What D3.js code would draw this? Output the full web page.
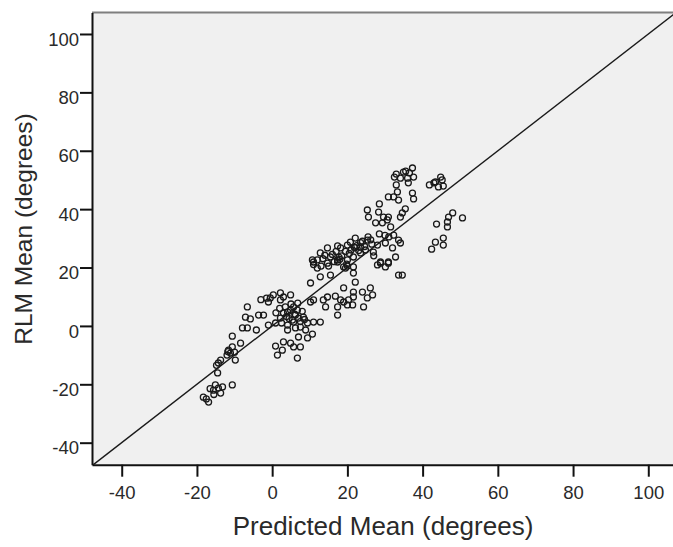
<!DOCTYPE html>
<html>
<head>
<meta charset="utf-8">
<script src="https://cdn.jsdelivr.net/npm/d3@7"></script>
<style>
  html, body { margin: 0; padding: 0; background: #fff; }
  svg { display: block; }
</style>
</head>
<body>
<div id="container"></div>
<script>
// predicted mean vs RLM mean, degrees
let predicted = [
  33.0, 34.9, 37.3, 36.5, 37.6, 36.0, 36.2, 34.1, 33.0, 33.3, 30.9, 32.3, 33.6, 37.3, 37.6,
  41.8, 43.4, 44.8, 44.2, 45.5, 43.0, 45.2,
  28.5, 25.3, 25.6, 28.3, 29.6, 30.9, 30.6, 27.5, 29.3, 31.5, 35.4, 34.6, 34.1,
  48.0, 46.9, 46.6, 50.6, 43.7, 46.6, 45.5, 45.5, 43.4, 42.4,
  28.5, 32.3, 33.6, 30.1, 32.0, 34.1, 32.8, 30.9, 28.8, 30.1,
  25.3, 22.1, 20.8, 23.5, 20.0, 18.2, 17.4, 14.7, 12.8, 10.7, 12.0, 15.5, 17.4, 20.0, 21.6,
  23.5, 24.8, 28.0, 26.9, 19.0, 20.0,
  11.0, 14.7, 17.4, 19.5, 21.6, 28.0, 28.8, 30.9, 33.6, 34.6,
  12.0, 12.8, 15.5, 21.6, 22.1, 10.2,
  19.0, 21.6, 24.0, 26.1, 26.7, 25.3, 24.3, 21.6, 20.3, 19.0, 18.2, 17.4, 17.4, 21.4, 20.0,
  16.8, 14.7, 14.2, 13.6, 11.0, 10.2,
  -0.5, 0.3, 2.2, 3.0, 4.9, -1.0, 2.2,
  -6.6, -7.1, -5.8, -3.6, -2.3, -7.9, -6.6, -4.2,
  -1.0, 0.9, 2.2, 3.0, 4.1, 4.9, 5.7, 6.7, 6.2, 7.0, 8.3, 5.7, 4.1, 4.1, 6.2, 7.5,
  9.4, 11.0, 12.8, 8.9, 10.7, 9.4, 7.0,
  3.0, 4.9, 5.7, 7.5, 0.9, 2.7, 1.4, 6.7,
  -10.6, -8.4, -10.6, -11.6, -11.1, -9.8, -13.7, -14.3, -14.5,
  -15.1, -14.3, -13.2, -15.6, -13.7, -10.6, -18.3, -16.9, -17.5,
  18.5, 19.5, 21.0, 22.5, 23.5, 16.0, 13.5, 11.0, 24.0, 25.5, 26.5, 19.8, 18.0, 17.0, 15.0,
  5.0, 3.5, 6.8, 8.0, 4.5, 2.5, 1.0, 7.5, -12.0, -10.0, -15.5, -16.5,
  30.0, 31.0, 27.0, 13.0, -3.0, -1.5, 32.5, 35.5,
  20.5, 22.0, 23.0, 17.8, 16.5, 14.0, 21.8, 24.6, 26.2, 3.8, 5.4, 6.0, 2.0, 8.6, -11.8, -14.8
];
let rlm = [
  52.0, 52.7, 54.1, 52.4, 51.0, 50.6, 49.0, 50.6, 48.3, 45.9, 44.2, 44.2, 43.1, 45.5, 43.5,
  48.3, 49.3, 51.0, 47.6, 47.9, 49.0, 50.0,
  41.8, 39.7, 37.3, 39.0, 37.3, 37.3, 36.3, 35.3, 35.3, 33.9, 40.1, 38.7, 37.3,
  38.7, 37.3, 35.6, 37.0, 34.9, 33.9, 30.1, 27.7, 28.7, 26.3,
  31.5, 31.1, 29.4, 28.4, 26.7, 28.4, 23.6, 21.9, 21.5, 20.2,
  29.4, 30.1, 28.7, 27.0, 27.7, 26.7, 27.4, 26.7, 25.0, 22.6, 22.6, 23.6, 22.6, 22.6, 23.6,
  25.0, 26.0, 27.7, 25.3, 20.2, 20.5,
  21.9, 21.5, 21.9, 19.8, 20.2, 20.9, 21.9, 21.5, 17.4, 17.4,
  19.8, 16.8, 17.4, 18.1, 15.0, 14.7,
  13.0, 11.6, 11.6, 13.0, 10.6, 9.6, 6.5, 9.9, 8.9, 8.2, 8.9, 6.5, 3.7, 7.2, 7.2,
  10.2, 9.9, 6.5, 8.9, 8.9, 8.2,
  9.6, 10.6, 11.3, 9.9, 10.6, 8.2, 8.9,
  6.5, 3.0, 2.4, 3.7, 3.7, -0.7, -0.7, -1.4,
  0.3, 1.0, 2.7, 4.4, 4.8, 5.4, 6.5, 5.4, 3.7, 2.7, 3.0, 1.3, 0.3, -1.4, -0.7, -0.4,
  1.0, 1.3, 1.3, -1.4, -2.8, -4.1, -3.8,
  -5.5, -5.9, -7.2, -7.2, -6.9, -8.3, -10.0, -11.0,
  -3.5, -5.9, -7.2, -8.3, -9.3, -11.7, -11.7, -12.7, -16.1,
  -20.2, -21.3, -20.9, -22.0, -23.0, -20.2, -24.4, -26.1, -25.0,
  24.0, 25.5, 26.0, 27.5, 28.5, 24.5, 23.0, 21.0, 29.0, 30.5, 28.0, 21.2, 22.8, 25.5, 20.5,
  7.5, 6.5, 7.8, 5.0, 2.5, 1.0, 4.5, 1.5, -10.0, -9.0, -23.5, -21.5,
  31.0, 30.5, 24.0, 20.5, 9.0, 9.5, 51.0, 53.0,
  24.8, 26.8, 25.8, 23.5, 22.0, 24.2, 27.0, 27.2, 29.5, 3.2, 2.0, 4.0, 6.0, 2.2, -8.8, -13.5
];
let tickValues = [-40, -20, 0, 20, 40, 60, 80, 100];
let xExtent = [-47.9, 106.57],
    yExtent = [-47.54, 107.36];

let W = 673, H = 547;
let mLeft = 92, mTop = 12.5, mRight = 673, mBottom = 464.7;

let svg = d3.select('#container')
    .append('svg')
      .attr('width', W)
      .attr('height', H)
      .style('background', '#ffffff')
      .attr('font-family', 'Liberation Sans, Arial, sans-serif');

let x = d3.scaleLinear().domain(xExtent).range([mLeft, mRight]);
let y = d3.scaleLinear().domain(yExtent).range([mBottom, mTop]);

svg.append('defs').append('clipPath')
    .attr('id', 'plotclip')
  .append('rect')
    .attr('x', mLeft).attr('y', mTop)
    .attr('width', mRight - mLeft).attr('height', mBottom - mTop);

svg.append('rect')
    .attr('x', mLeft).attr('y', mTop)
    .attr('width', mRight - mLeft).attr('height', mBottom - mTop)
    .attr('fill', '#f0f0f0');

// top frame
svg.append('line')
    .attr('x1', mLeft).attr('x2', mRight)
    .attr('y1', mTop).attr('y2', mTop)
    .attr('stroke', '#7f7f7f')
    .attr('stroke-width', 2);

let plot = svg.append('g').attr('clip-path', 'url(#plotclip)');

// reference line y = x
let lo = Math.min(xExtent[0], yExtent[0]), hi = Math.max(xExtent[1], yExtent[1]);
plot.append('line')
    .attr('x1', x(lo)).attr('y1', y(lo))
    .attr('x2', x(hi)).attr('y2', y(hi))
    .attr('stroke', '#1a1a1a')
    .attr('stroke-width', 1.4);

plot.selectAll('circle')
    .data(predicted.map((p, i) => [p, rlm[i]]))
    .enter().append('circle')
      .attr('cx', d => x(d[0]))
      .attr('cy', d => y(d[1]))
      .attr('r', 3)
      .attr('fill', 'none')
      .attr('stroke', '#1a1a1a')
      .attr('stroke-width', 1.3);

let fmt = d => String(d);
let xAxis = svg.append('g')
    .attr('transform', 'translate(0,' + mBottom + ')')
    .call(d3.axisBottom(x).tickValues(tickValues).tickFormat(fmt).tickSize(12).tickSizeOuter(0).tickPadding(9));
let yAxis = svg.append('g')
    .attr('transform', 'translate(' + mLeft + ',0)')
    .call(d3.axisLeft(y).tickValues(tickValues).tickFormat(fmt).tickSize(12).tickSizeOuter(0).tickPadding(1));

[xAxis, yAxis].forEach(a => {
    a.select('.domain').attr('stroke', '#111').attr('stroke-width', 2);
    a.selectAll('.tick line').attr('stroke', '#111').attr('stroke-width', 2);
    a.selectAll('.tick text')
        .attr('fill', '#2a2a2a')
        .attr('font-size', 18.5)
        .attr('font-family', 'Liberation Sans, Arial, sans-serif');
});
yAxis.selectAll('.tick text').attr('dy', '0.6em');
xAxis.selectAll('.tick text').attr('dy', '0.71em');

svg.append('text')
    .attr('x', 383)
    .attr('y', 535)
    .attr('text-anchor', 'middle')
    .attr('font-size', 26)
    .attr('fill', '#2a2a2a')
    .text('Predicted Mean (degrees)');

svg.append('text')
    .attr('transform', 'translate(32,229) rotate(-90)')
    .attr('text-anchor', 'middle')
    .attr('font-size', 24.5)
    .attr('fill', '#2a2a2a')
    .text('RLM Mean (degrees)');
</script>
</body>
</html>
